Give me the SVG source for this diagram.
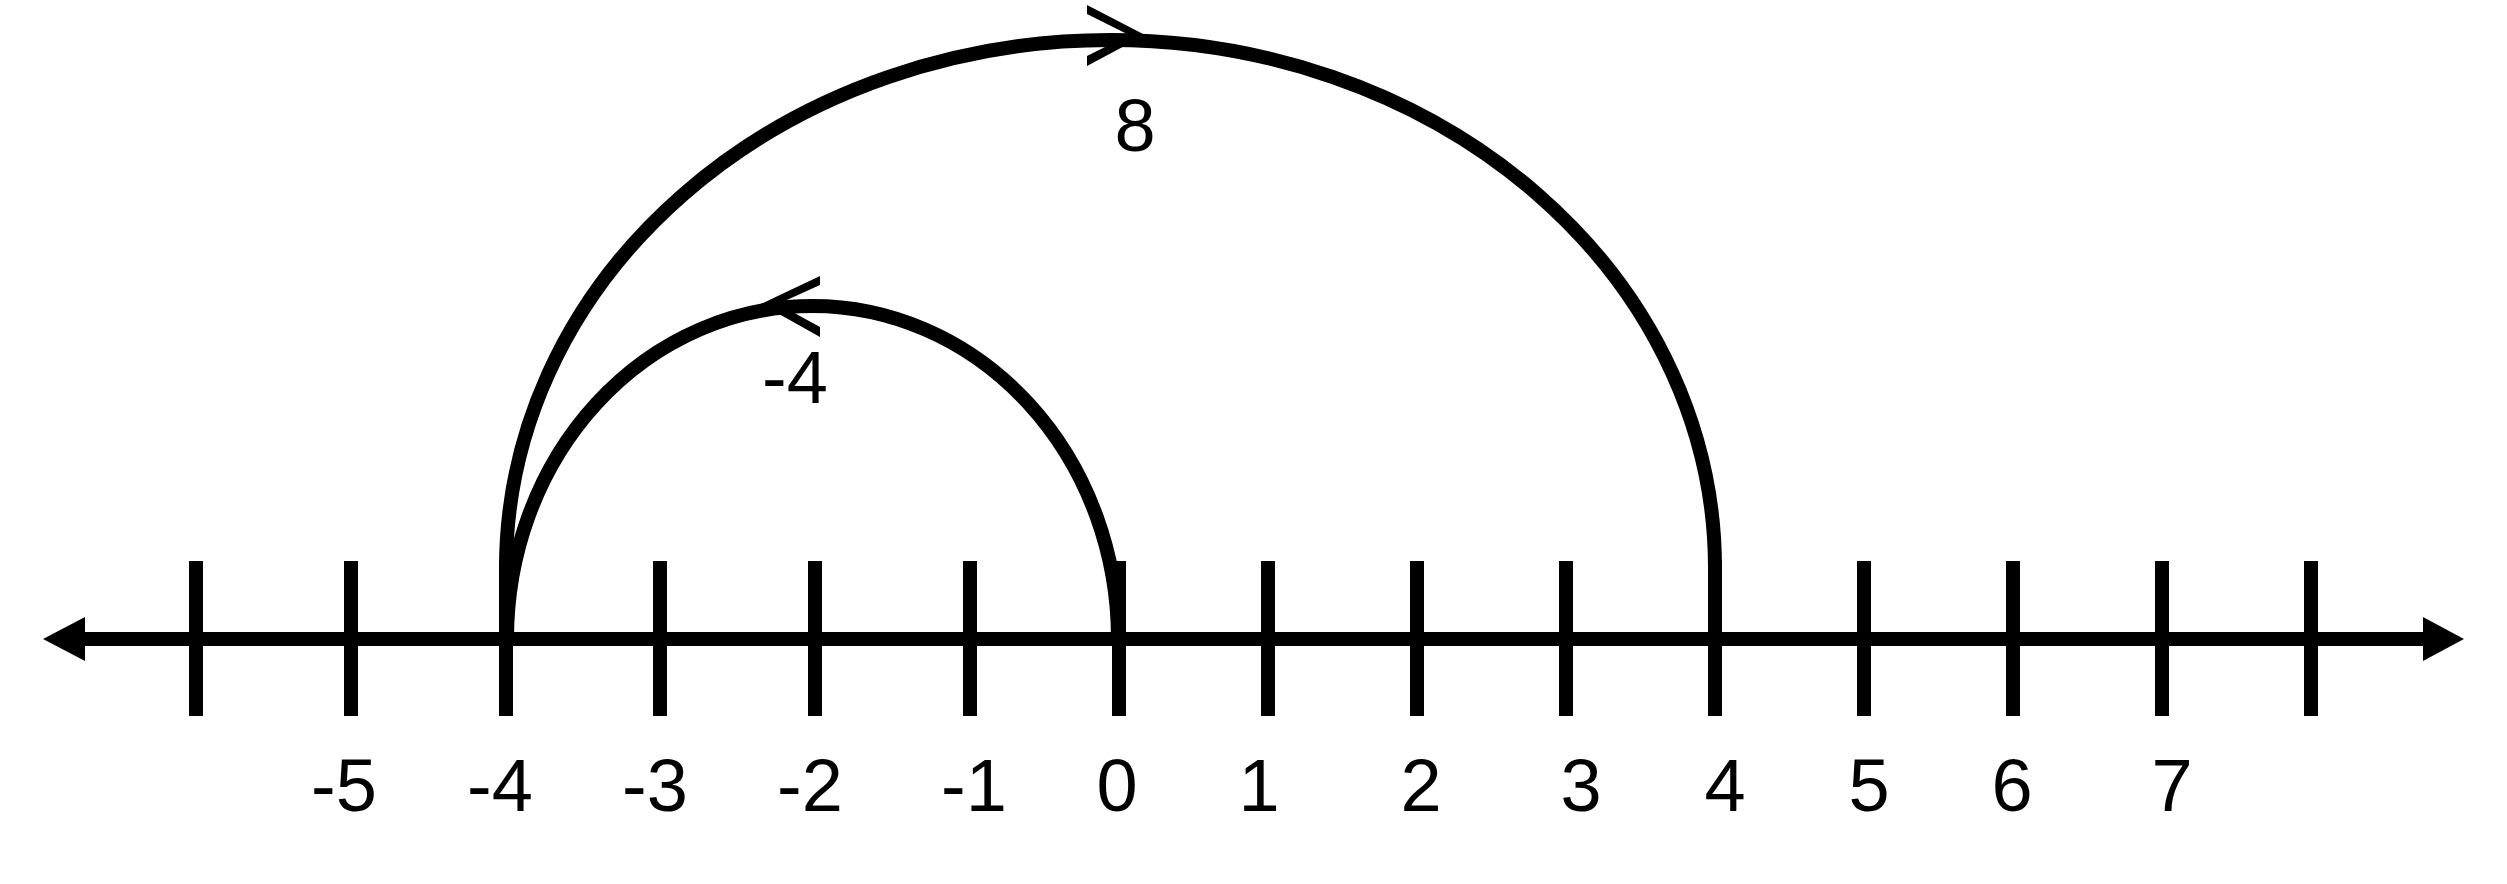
<svg xmlns="http://www.w3.org/2000/svg" width="2507" height="884" viewBox="0 0 2507 884">
<style>
.tick{stroke:#000;stroke-width:14;fill:none}
.axis{stroke:#000;stroke-width:14;fill:none}
.arc{stroke:#000;stroke-width:14;fill:none}
.chev{fill:#000;stroke:none}
.lbl{font-family:"Liberation Sans",Arial,sans-serif;font-size:74px;fill:#000;text-anchor:middle}
</style>
<rect width="2507" height="884" fill="#fff"/>
<g id="axis">
<line class="axis" x1="84" y1="639" x2="2424" y2="639"/>
<polygon points="43,639 85,617 85,661" fill="#000"/>
<polygon points="2464,639 2423,617 2423,661" fill="#000"/>
</g>
<g id="ticks">
<line class="tick" x1="196" y1="561" x2="196" y2="716"/>
<line class="tick" x1="351" y1="561" x2="351" y2="716"/>
<line class="tick" x1="506" y1="561" x2="506" y2="716"/>
<line class="tick" x1="660" y1="561" x2="660" y2="716"/>
<line class="tick" x1="815" y1="561" x2="815" y2="716"/>
<line class="tick" x1="970" y1="561" x2="970" y2="716"/>
<line class="tick" x1="1119" y1="561" x2="1119" y2="716"/>
<line class="tick" x1="1268" y1="561" x2="1268" y2="716"/>
<line class="tick" x1="1417" y1="561" x2="1417" y2="716"/>
<line class="tick" x1="1566" y1="561" x2="1566" y2="716"/>
<line class="tick" x1="1715" y1="561" x2="1715" y2="716"/>
<line class="tick" x1="1864" y1="561" x2="1864" y2="716"/>
<line class="tick" x1="2013" y1="561" x2="2013" y2="716"/>
<line class="tick" x1="2162" y1="561" x2="2162" y2="716"/>
<line class="tick" x1="2311" y1="561" x2="2311" y2="716"/>
</g>
<g id="labels">
<text class="lbl" x="344" y="811">-5</text>
<text class="lbl" x="500" y="811">-4</text>
<text class="lbl" x="655" y="811">-3</text>
<text class="lbl" x="810" y="811">-2</text>
<text class="lbl" x="974" y="811">-1</text>
<text class="lbl" x="1117" y="811">0</text>
<text class="lbl" x="1259" y="811">1</text>
<text class="lbl" x="1421" y="811">2</text>
<text class="lbl" x="1581" y="811">3</text>
<text class="lbl" x="1725" y="811">4</text>
<text class="lbl" x="1869" y="811">5</text>
<text class="lbl" x="2012" y="811">6</text>
<text class="lbl" x="2172" y="811">7</text>
</g>
<g id="connectors">
<g id="jump-8">
<path class="arc" d="M 506 568 A 604.5 528 0 0 1 1715 568"/>
<polygon class="chev" points="1087,5 1145,35 1087,66 1087,56 1129,35 1087,14"/>
<text class="lbl" x="1135" y="151">8</text>
</g>
<g id="jump-minus4">
<path class="arc" d="M 507 639 A 305.5 333 0 0 1 1118 639"/>
<polygon class="chev" points="820,276 761,304 820,337 820,327 778,304 820,285"/>
<text class="lbl" x="795" y="403">-4</text>
</g>
</g>
</svg>
